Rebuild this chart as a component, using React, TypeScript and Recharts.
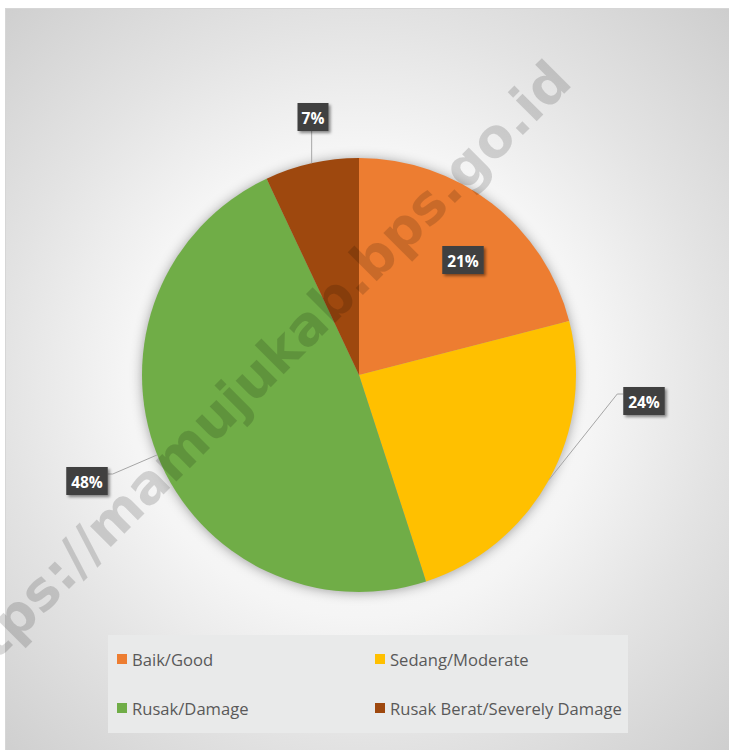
import React from 'react';
import { PieChart, Pie, Cell, Legend } from 'recharts';

const categories = ['Baik/Good', 'Sedang/Moderate', 'Rusak/Damage', 'Rusak Berat/Severely Damage'];
const shares = [21, 24, 48, 7];
const colors = ['#ED7D31', '#FFC000', '#70AD47', '#9E480E'];

const data = categories.map((name, i) => ({ name, value: shares[i] }));

const W = 729;
const H = 750;
const CX = 359;
const CY = 375;
const R = 217;

// where each percentage box sits, relative to the pie centre
const labelPos = [
  { dx: 104, dy: -115, leader: 'none' },
  { dx: 285, dy: 26, leader: 'right' },
  { dx: -272, dy: 106, leader: 'left' },
  { dx: -46, dy: -258, leader: 'up' },
];

const renderLabel = (p: any) => {
  const { cx, cy, midAngle, outerRadius, percent, index } = p;
  const rad = Math.PI / 180;
  const ex = cx + outerRadius * Math.cos(-midAngle * rad);
  const ey = cy + outerRadius * Math.sin(-midAngle * rad);
  const pos = labelPos[index];
  const text = `${Math.round(percent * 100)}%`;
  const w = text.length * 10.5 + 10;
  const h = 28;
  const bx = cx + pos.dx;
  const by = cy + pos.dy;
  let pts = '';
  if (pos.leader === 'right') {
    const x1 = bx - w / 2;
    const y1 = by - 7;
    pts = `${ex},${ey} ${x1 - 6},${y1} ${x1},${y1}`;
  } else if (pos.leader === 'left') {
    const x1 = bx + w / 2;
    const y1 = by - 7;
    pts = `${ex},${ey} ${x1 + 5},${y1} ${x1},${y1}`;
  } else if (pos.leader === 'up') {
    pts = `${ex},${ey} ${ex},${by + h / 2}`;
  }
  return (
    <g key={`lbl-${index}`}>
      {pts && <polyline points={pts} fill="none" stroke="#a6a6a6" strokeWidth={1} />}
      <rect
        x={bx - w / 2}
        y={by - h / 2}
        width={w}
        height={h}
        fill="#404040"
        filter="url(#lblShadow)"
      />
      <text
        x={bx}
        y={by + 1}
        textAnchor="middle"
        dominantBaseline="central"
        fill="#ffffff"
        fontFamily="'Open Sans', sans-serif"
        fontWeight={700}
        fontSize={15.5}
      >
        {text}
      </text>
    </g>
  );
};

function LegendBox() {
  const colX = [9, 267];
  const rowY = [24, 73];
  return (
    <div style={{ position: 'relative', width: 520, height: 98, background: '#e9eaea' }}>
      {categories.map((name, i) => (
        <div
          key={name}
          style={{
            position: 'absolute',
            left: colX[i % 2],
            top: rowY[Math.floor(i / 2)] - 12,
            height: 24,
            display: 'flex',
            alignItems: 'center',
            whiteSpace: 'nowrap',
            fontFamily: "'Open Sans', sans-serif",
            fontSize: 16.6,
            color: '#595959',
          }}
        >
          <span style={{ display: 'inline-block', width: 10, height: 10, background: colors[i], marginRight: 5 }} />
          {name}
        </div>
      ))}
    </div>
  );
}

export default function App() {
  return (
    <div style={{ position: 'absolute', left: 0, top: 0, width: W, height: H, background: '#ffffff', overflow: 'hidden' }}>
      {/* card with grey radial backdrop */}
      <div
        style={{
          position: 'absolute',
          left: 5,
          top: 8,
          width: W - 5,
          height: H - 8,
          boxSizing: 'border-box',
          borderLeft: '1px solid #d6d6d6',
          borderTop: '1px solid #d6d6d6',
          background:
            'radial-gradient(circle at 355px 372px, #fbfbfb 0px, #f5f5f5 235px, #e3e3e3 360px, #cdcdcd 530px)',
        }}
      />
      {/* soft shadow under the pie */}
      <svg width={W} height={H} style={{ position: 'absolute', left: 0, top: 0 }}>
        <defs>
          <filter id="pieShadow" x="-20%" y="-20%" width="140%" height="140%">
            <feGaussianBlur stdDeviation="6" />
          </filter>
        </defs>
        <circle cx={CX} cy={CY + 1} r={R} fill="rgba(0,0,0,0.35)" filter="url(#pieShadow)" />
      </svg>
      <div style={{ position: 'absolute', left: 0, top: 0 }}>
        <PieChart width={W} height={H} margin={{ top: 0, right: 0, bottom: 0, left: 0 }}>
          <Pie
            data={data}
            dataKey="value"
            nameKey="name"
            cx={CX}
            cy={CY}
            outerRadius={R}
            startAngle={90}
            endAngle={-270}
            stroke="none"
            label={renderLabel}
            labelLine={false}
            isAnimationActive={false}
          >
            {data.map((d, i) => (
              <Cell key={d.name} fill={colors[i]} />
            ))}
          </Pie>
          <Legend
            content={() => <LegendBox />}
            wrapperStyle={{ position: 'absolute', left: 108, top: 635, width: 520, height: 98, bottom: 'auto' }}
          />
        </PieChart>
      </div>
      {/* watermark */}
      <svg width={W} height={H} style={{ position: 'absolute', left: 0, top: 0, pointerEvents: 'none' }}>
        <defs>
          <filter id="lblShadow" x="-30%" y="-30%" width="160%" height="160%">
            <feDropShadow dx="2" dy="2" stdDeviation="1.5" floodColor="#000" floodOpacity="0.45" />
          </filter>
        </defs>
        <text
          x={574}
          y={84}
          textAnchor="end"
          transform="rotate(-45 574 84)"
          fontFamily="'DejaVu Sans', Verdana, sans-serif"
          fontWeight="bold"
          fontSize={54}
          fill="rgba(0,0,0,0.15)"
        >
          https://mamujukab.bps.go.id
        </text>
      </svg>
    </div>
  );
}
